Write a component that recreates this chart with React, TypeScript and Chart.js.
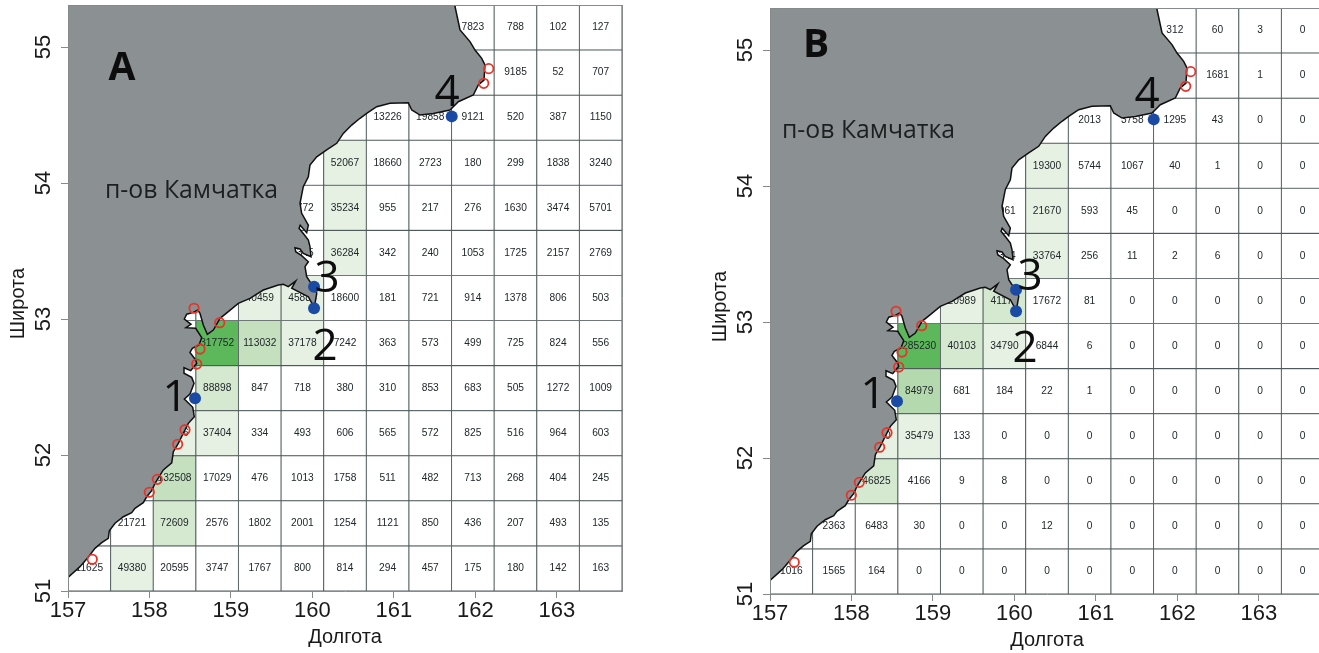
import React, { useEffect, useRef } from "react";
import { Chart, registerables } from "chart.js";

Chart.register(...registerables);

const lonMin = 157;
const lonMax = 163.8;
const latMin = 51;
const latMax = 55.309;
const gridCount = 13;

// first occupied column for each row, top row first
const startCols = [9, 10, 7, 6, 5, 5, 4, 3, 3, 2, 2, 1, 0];

const valuesA = [
  [7823, 788, 102, 127],
  [9185, 52, 707],
  [13226, 19858, 9121, 520, 387, 1150],
  [52067, 18660, 2723, 180, 299, 1838, 3240],
  [3772, 35234, 955, 217, 276, 1630, 3474, 5701],
  [1345, 36284, 342, 240, 1053, 1725, 2157, 2769],
  [40459, 45884, 18600, 181, 721, 914, 1378, 806, 503],
  [317752, 113032, 37178, 7242, 363, 573, 499, 725, 824, 556],
  [88898, 847, 718, 380, 310, 853, 683, 505, 1272, 1009],
  [30006, 37404, 334, 493, 606, 565, 572, 825, 516, 964, 603],
  [132508, 17029, 476, 1013, 1758, 511, 482, 713, 268, 404, 245],
  [21721, 72609, 2576, 1802, 2001, 1254, 1121, 850, 436, 207, 493, 135],
  [11625, 49380, 20595, 3747, 1767, 800, 814, 294, 457, 175, 180, 142, 163],
];

const valuesB = [
  [312, 60, 3, 0],
  [1681, 1, 0],
  [2013, 3758, 1295, 43, 0, 0],
  [19300, 5744, 1067, 40, 1, 0, 0],
  [5061, 21670, 593, 45, 0, 0, 0, 0],
  [1344, 33764, 256, 11, 2, 6, 0, 0],
  [20989, 41170, 17672, 81, 0, 0, 0, 0, 0],
  [285230, 40103, 34790, 6844, 6, 0, 0, 0, 0, 0],
  [84979, 681, 184, 22, 1, 0, 0, 0, 0, 0],
  [21450, 35479, 133, 0, 0, 0, 0, 0, 0, 0, 0],
  [46825, 4166, 9, 8, 0, 0, 0, 0, 0, 0, 0],
  [2363, 6483, 30, 0, 0, 12, 0, 0, 0, 0, 0, 0],
  [1016, 1565, 164, 0, 0, 0, 0, 0, 0, 0, 0, 0, 0],
];

const cutsA = [30000, 60000, 100000, 200000];
const cutsB = [19000, 40000, 60000, 200000];
const fillsA = ["#ffffff", "#e6f1e3", "#d5e8d0", "#c5e0bf", "#5cb85a"];
const fillsB = ["#ffffff", "#e6f1e3", "#d5e8d0", "#b5d9ae", "#5cb85a"];

const coastLon = [
  156.5, 156.5, 156.9, 157.0, 157.147, 157.237, 157.331, 157.414, 157.495, 157.507, 157.577, 157.679,
  157.782, 157.822, 157.924, 157.966, 158.027, 158.068, 158.17, 158.273, 158.293, 158.354, 158.415,
  158.477, 158.55, 158.531, 158.428, 158.498, 158.547, 158.518, 158.424, 158.424, 158.506, 158.58,
  158.567, 158.497, 158.526, 158.608, 158.641, 158.567, 158.448, 158.51, 158.428, 158.457, 158.538,
  158.592, 158.62, 158.661, 158.71, 158.784, 158.866, 158.968, 159.09, 159.234, 159.397, 159.581,
  159.643, 159.704, 159.795, 159.746, 159.95, 160.023, 160.053, 160.023, 159.97, 159.93, 159.909,
  159.95, 159.868, 159.795, 159.786, 159.848, 159.888, 159.983, 159.97, 159.95, 159.9, 159.836,
  159.85, 159.93, 159.95, 159.868, 159.848, 159.888, 159.95, 159.97, 160.053, 160.175, 160.298,
  160.379, 160.482, 160.584, 160.666, 160.789, 160.952, 161.177, 161.219, 161.321, 161.484, 161.689,
  161.791, 161.975, 162.036, 162.106, 162.118, 162.078, 161.996, 161.934, 161.812, 161.751, 161.726,
  161.7,
];
const coastLat = [
  55.6, 51.0, 51.03, 51.1, 51.179, 51.24, 51.314, 51.355, 51.387, 51.443, 51.498, 51.546,
  51.576, 51.608, 51.649, 51.693, 51.738, 51.792, 51.89, 51.943, 52.024, 52.086, 52.16,
  52.233, 52.282, 52.351, 52.412, 52.449, 52.527, 52.571, 52.601, 52.642, 52.62, 52.674,
  52.699, 52.755, 52.784, 52.809, 52.863, 52.932, 52.936, 52.961, 53.0, 53.035, 53.049,
  53.066, 53.042, 52.956, 52.887, 52.919, 53.005, 53.054, 53.115, 53.152, 53.213, 53.25,
  53.255, 53.238, 53.279, 53.226, 53.164, 53.083, 53.189, 53.25, 53.274, 53.311, 53.385,
  53.421, 53.466, 53.495, 53.524, 53.515, 53.483, 53.458, 53.532, 53.581, 53.62, 53.667,
  53.69, 53.635, 53.691, 53.777, 53.851, 53.973, 54.046, 54.132, 54.193, 54.243, 54.292,
  54.365, 54.426, 54.476, 54.512, 54.561, 54.586, 54.59, 54.537, 54.5, 54.512, 54.537,
  54.598, 54.647, 54.721, 54.757, 54.868, 54.917, 54.978, 55.04, 55.125, 55.296, 55.39,
  55.6,
];

const redLon = [157.298, 157.998, 158.096, 158.346, 158.436, 158.58, 158.62, 158.547, 158.862, 162.164, 162.103];
const redLat = [51.233, 51.726, 51.821, 52.079, 52.186, 52.669, 52.779, 53.079, 52.973, 54.841, 54.733];
const blueLon = [158.559, 160.02, 160.02, 161.71];
const blueLat = [52.417, 53.237, 53.079, 54.49];

const xTicks = [157, 158, 159, 160, 161, 162, 163];
const yTicks = [51, 52, 53, 54, 55];

const markerText = ["1", "2", "3", "4"];
const markerLonA = [158.313, 160.155, 160.179, 161.652];
const markerLatA = [52.414, 52.789, 53.289, 54.656];
const markerLonB = [158.264, 160.13, 160.191, 161.627];
const markerLatB = [52.458, 52.796, 53.326, 54.664];

const panelA = {
  letter: "A",
  letterAt: [157.663, 54.84],
  placeAt: [157.454, 53.89],
  values: valuesA,
  cuts: cutsA,
  fills: fillsA,
  markerLon: markerLonA,
  markerLat: markerLatA,
};
const panelB = {
  letter: "B",
  letterAt: [157.565, 55.031],
  placeAt: [157.147, 54.353],
  values: valuesB,
  cuts: cutsB,
  fills: fillsB,
  markerLon: markerLonB,
  markerLat: markerLatB,
};

const cellW = (lonMax - lonMin) / gridCount;
const cellH = (latMax - latMin) / gridCount;
const frameColor = "#858a8b";

function fillFor(v: number | null, cuts: number[], fills: string[]) {
  if (v === null) return fills[0];
  let i = 0;
  while (i < cuts.length && v >= cuts[i]) i++;
  return fills[i];
}

function cellValue(panel: any, row: number, col: number): number | null {
  const k = col - startCols[row];
  if (k < 0) return null;
  const v = panel.values[row][k];
  return v === undefined ? null : v;
}

function zip(a: number[], b: number[]) {
  return a.map((x, i) => ({ x, y: b[i] }));
}

function noPad(s: any) {
  s.paddingTop = 0;
  s.paddingBottom = 0;
  s.paddingLeft = 0;
  s.paddingRight = 0;
}

function makeChart(canvas: HTMLCanvasElement, panel: any) {
  const cells: any[] = [];
  const colors: string[] = [];
  for (let r = 0; r < gridCount; r++) {
    for (let c = 0; c < gridCount; c++) {
      const hi = latMin + (gridCount - r) * cellH;
      cells.push({ x: lonMin + (c + 0.5) * cellW, y: [hi - cellH, hi] });
      colors.push(fillFor(cellValue(panel, r, c), panel.cuts, panel.fills));
    }
  }

  const textPlugin = {
    id: "mapText",
    afterDatasetDraw(chart: any, args: any) {
      if (args.index !== 0) return;
      const { ctx, scales } = chart;
      ctx.save();
      ctx.font = '10.2px "Liberation Sans"';
      ctx.fillStyle = "#20282a";
      ctx.textAlign = "center";
      ctx.textBaseline = "middle";
      for (let r = 0; r < gridCount; r++) {
        for (let c = 0; c < gridCount; c++) {
          const v = cellValue(panel, r, c);
          if (v === null) continue;
          const lat = latMin + (gridCount - r - 0.5) * cellH;
          ctx.fillText(String(v), scales.x.getPixelForValue(lonMin + (c + 0.5) * cellW), scales.y.getPixelForValue(lat));
        }
      }
      ctx.restore();
    },
    afterDatasetsDraw(chart: any) {
      const { ctx, scales } = chart;
      ctx.save();
      ctx.fillStyle = "#0d0d0d";
      ctx.textAlign = "center";
      ctx.textBaseline = "middle";
      ctx.font = 'bold 39px "Open Sans"';
      ctx.fillText(panel.letter, scales.x.getPixelForValue(panel.letterAt[0]), scales.y.getPixelForValue(panel.letterAt[1]));
      ctx.font = '400 44px "Open Sans"';
      markerText.forEach((t, i) => {
        ctx.fillText(t, scales.x.getPixelForValue(panel.markerLon[i]), scales.y.getPixelForValue(panel.markerLat[i]));
      });
      ctx.textAlign = "left";
      ctx.textBaseline = "alphabetic";
      ctx.font = '24.8px "Open Sans"';
      ctx.fillStyle = "#1c1f20";
      ctx.fillText("п-ов Камчатка", scales.x.getPixelForValue(panel.placeAt[0]), scales.y.getPixelForValue(panel.placeAt[1]));
      ctx.restore();
    },
  };

  const noBox = { display: false };
  return new Chart(canvas, {
    type: "bar",
    data: {
      datasets: [
        {
          type: "bar",
          data: cells,
          backgroundColor: colors,
          borderColor: "#4f5a5a",
          borderWidth: 0.85,
          borderSkipped: false,
          barThickness: 42.62,
          grouped: false,
          order: 4,
        },
        {
          type: "line",
          data: zip(coastLon, coastLat),
          borderColor: "#101010",
          borderWidth: 1.5,
          backgroundColor: "#8b9092",
          fill: "shape",
          pointRadius: 0,
          tension: 0,
          order: 3,
        },
        {
          type: "scatter",
          data: zip(redLon, redLat),
          pointStyle: "circle",
          pointRadius: 4.7,
          backgroundColor: "transparent",
          borderColor: "#e5352b",
          borderWidth: 1.8,
          order: 2,
        },
        {
          type: "scatter",
          data: zip(blueLon, blueLat),
          pointStyle: "circle",
          pointRadius: 6,
          backgroundColor: "#1b4aa5",
          borderColor: "#1b4aa5",
          borderWidth: 0,
          order: 1,
        },
      ],
    } as any,
    plugins: [textPlugin],
    options: {
      animation: false,
      responsive: false,
      devicePixelRatio: 1,
      layout: { autoPadding: false, padding: { top: 5, right: 18, left: 0, bottom: 0 } },
      plugins: { legend: noBox, tooltip: { enabled: false }, title: noBox },
      scales: {
        x: {
          type: "linear",
          position: "bottom",
          min: lonMin,
          max: lonMax,
          offset: false,
          afterFit: (s: any) => { s.height = 62; noPad(s); },
          afterBuildTicks: (s: any) => { s.ticks = xTicks.map((value) => ({ value })); },
          grid: { offset: false, drawOnChartArea: false, drawTicks: true, tickLength: 7, color: frameColor },
          border: { display: true, color: frameColor, z: 5 },
          ticks: {
            includeBounds: false,
            autoSkip: false,
            maxRotation: 0,
            padding: 0,
            color: "#1a1a1a",
            font: { family: '"Liberation Sans"', size: 22 },
          },
          title: {
            display: true,
            text: "Долгота",
            color: "#1a1a1a",
            font: { family: '"Liberation Sans"', size: 20 },
            padding: { top: 0, bottom: 4 },
          },
        },
        y: {
          type: "linear",
          position: "left",
          min: latMin,
          max: latMax,
          afterFit: (s: any) => { s.width = 68; noPad(s); },
          afterBuildTicks: (s: any) => { s.ticks = yTicks.map((value) => ({ value })); },
          grid: { drawOnChartArea: false, drawTicks: true, tickLength: 7, color: frameColor },
          border: { display: true, color: frameColor, z: 5 },
          ticks: {
            includeBounds: false,
            autoSkip: false,
            minRotation: 90,
            maxRotation: 90,
            crossAlign: "center",
            padding: 5,
            color: "#1a1a1a",
            font: { family: '"Liberation Sans"', size: 22 },
          },
          title: {
            display: true,
            text: "Широта  ",
            color: "#1a1a1a",
            font: { family: '"Liberation Sans"', size: 20 },
            padding: { top: 6, bottom: 0 },
          },
        },
        xTop: {
          type: "linear",
          position: "top",
          min: lonMin,
          max: lonMax,
          afterFit: (s: any) => { s.height = 0; noPad(s); },
          ticks: { display: false },
          grid: { display: false, drawTicks: false },
          border: { display: true, color: frameColor, z: 5 },
        },
        yRight: {
          type: "linear",
          position: "right",
          min: latMin,
          max: latMax,
          afterFit: (s: any) => { s.width = 0; noPad(s); },
          ticks: { display: false },
          grid: { display: false, drawTicks: false },
          border: { display: true, color: frameColor, z: 5 },
        },
      },
    } as any,
  });
}

function Panel({ panel, left, top }: { panel: any; left: number; top: number }) {
  const ref = useRef<HTMLCanvasElement | null>(null);
  useEffect(() => {
    const chart = makeChart(ref.current as HTMLCanvasElement, panel);
    return () => chart.destroy();
  }, [panel]);
  return (
    <canvas
      ref={ref}
      width={640}
      height={653}
      style={{ position: "absolute", left, top, width: 640, height: 653, filter: "blur(0.4px)" }}
    />
  );
}

export default function App() {
  return (
    <div style={{ position: "fixed", left: 0, top: 0, width: 1319, height: 653, overflow: "hidden", background: "#fff" }}>
      <Panel panel={panelA} left={0} top={0} />
      <Panel panel={panelB} left={702} top={3} />
    </div>
  );
}
